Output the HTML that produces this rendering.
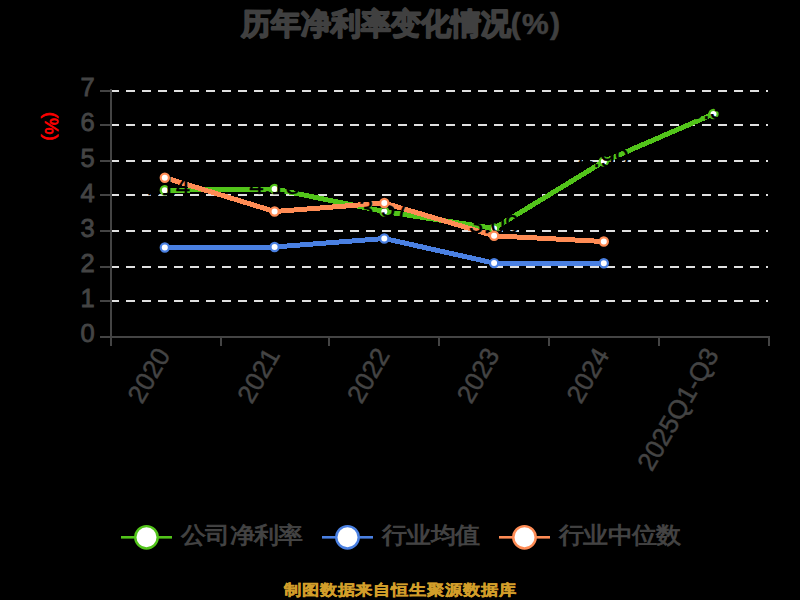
<!DOCTYPE html>
<html><head><meta charset="utf-8"><title>历年净利率变化情况</title>
<style>
html,body{margin:0;padding:0;background:#000;width:800px;height:600px;overflow:hidden}
svg{display:block}
text{font-family:"Liberation Sans",sans-serif}
.ax{font-size:26px;fill:#444444;stroke:#444444;stroke-width:0.9px}
.lbl{font-size:26px;fill:#000;stroke:#000;stroke-width:0.3px}
.unit{font-size:18.5px;fill:#ff0000;stroke:#ff0000;stroke-width:0.7px}
.leg{font-size:24.5px;letter-spacing:-0.65px;fill:#444444;stroke:#444444;stroke-width:0.9px}
.title{font-size:30px;font-weight:bold;fill:#404040;stroke:#404040;stroke-width:1.8px;stroke-linejoin:round}
.foot{font-size:17.7px;letter-spacing:-0.25px;font-weight:bold;fill:#d29e2a;stroke:#d29e2a;stroke-width:0.4px}
</style></head><body>
<svg width="800" height="600" viewBox="0 0 800 600">
<rect width="800" height="600" fill="#000"/>
<line x1="110" y1="91" x2="768" y2="91" stroke="#e0e0e0" stroke-width="2" stroke-dasharray="9 7"/>
<line x1="110" y1="125" x2="768" y2="125" stroke="#e0e0e0" stroke-width="2" stroke-dasharray="9 7"/>
<line x1="110" y1="161" x2="768" y2="161" stroke="#e0e0e0" stroke-width="2" stroke-dasharray="9 7"/>
<line x1="110" y1="195" x2="768" y2="195" stroke="#e0e0e0" stroke-width="2" stroke-dasharray="9 7"/>
<line x1="110" y1="231" x2="768" y2="231" stroke="#e0e0e0" stroke-width="2" stroke-dasharray="9 7"/>
<line x1="110" y1="267" x2="768" y2="267" stroke="#e0e0e0" stroke-width="2" stroke-dasharray="9 7"/>
<line x1="110" y1="301" x2="768" y2="301" stroke="#e0e0e0" stroke-width="2" stroke-dasharray="9 7"/>
<rect x="110" y="89" width="2" height="249" fill="#444444"/>
<rect x="110" y="336" width="660" height="2" fill="#444444"/>
<rect x="100" y="90" width="10" height="2" fill="#444444"/>
<rect x="100" y="124" width="10" height="2" fill="#444444"/>
<rect x="100" y="160" width="10" height="2" fill="#444444"/>
<rect x="100" y="194" width="10" height="2" fill="#444444"/>
<rect x="100" y="230" width="10" height="2" fill="#444444"/>
<rect x="100" y="266" width="10" height="2" fill="#444444"/>
<rect x="100" y="300" width="10" height="2" fill="#444444"/>
<rect x="100" y="336" width="10" height="2" fill="#444444"/>
<rect x="110" y="336" width="2" height="10" fill="#444444"/>
<rect x="220" y="336" width="2" height="10" fill="#444444"/>
<rect x="328" y="336" width="2" height="10" fill="#444444"/>
<rect x="438" y="336" width="2" height="10" fill="#444444"/>
<rect x="548" y="336" width="2" height="10" fill="#444444"/>
<rect x="658" y="336" width="2" height="10" fill="#444444"/>
<rect x="768" y="336" width="2" height="10" fill="#444444"/>
<text transform="translate(94.6,342.30) scale(0.96,1)" x="0" y="0" text-anchor="end" class="ax" style="font-size:26.6px">0</text>
<text transform="translate(94.6,307.16) scale(0.96,1)" x="0" y="0" text-anchor="end" class="ax" style="font-size:26.6px">1</text>
<text transform="translate(94.6,272.01) scale(0.96,1)" x="0" y="0" text-anchor="end" class="ax" style="font-size:26.6px">2</text>
<text transform="translate(94.6,236.87) scale(0.96,1)" x="0" y="0" text-anchor="end" class="ax" style="font-size:26.6px">3</text>
<text transform="translate(94.6,201.73) scale(0.96,1)" x="0" y="0" text-anchor="end" class="ax" style="font-size:26.6px">4</text>
<text transform="translate(94.6,166.59) scale(0.96,1)" x="0" y="0" text-anchor="end" class="ax" style="font-size:26.6px">5</text>
<text transform="translate(94.6,131.44) scale(0.96,1)" x="0" y="0" text-anchor="end" class="ax" style="font-size:26.6px">6</text>
<text transform="translate(94.6,96.30) scale(0.96,1)" x="0" y="0" text-anchor="end" class="ax" style="font-size:26.6px">7</text>
<text transform="translate(163.10,350.3) rotate(-60)" x="0" y="0" text-anchor="end" dominant-baseline="central" class="ax" style="stroke-width:0.5px">2020</text>
<text transform="translate(272.90,350.3) rotate(-60)" x="0" y="0" text-anchor="end" dominant-baseline="central" class="ax" style="stroke-width:0.5px">2021</text>
<text transform="translate(382.60,350.3) rotate(-60)" x="0" y="0" text-anchor="end" dominant-baseline="central" class="ax" style="stroke-width:0.5px">2022</text>
<text transform="translate(492.40,350.3) rotate(-60)" x="0" y="0" text-anchor="end" dominant-baseline="central" class="ax" style="stroke-width:0.5px">2023</text>
<text transform="translate(602.10,350.3) rotate(-60)" x="0" y="0" text-anchor="end" dominant-baseline="central" class="ax" style="stroke-width:0.5px">2024</text>
<text transform="translate(711.80,350.3) rotate(-60)" x="0" y="0" text-anchor="end" dominant-baseline="central" class="ax" style="stroke-width:0.5px">2025Q1-Q3</text>
<polyline points="164.80,190.30 274.60,189.00 384.30,211.50 494.10,228.40 603.80,161.50 713.50,114.00" fill="none" stroke="#52c41a" stroke-width="5" stroke-linejoin="round" stroke-linecap="butt" shape-rendering="crispEdges"/>
<polyline points="164.80,247.50 274.60,247.00 384.30,238.50 494.10,263.10 603.80,263.20" fill="none" stroke="#4a80e2" stroke-width="5" stroke-linejoin="round" stroke-linecap="butt" shape-rendering="crispEdges"/>
<polyline points="164.80,177.70 274.60,211.50 384.30,203.00 494.10,235.80 603.80,241.50" fill="none" stroke="#ff8c55" stroke-width="5" stroke-linejoin="round" stroke-linecap="butt" shape-rendering="crispEdges"/>
<circle cx="164.80" cy="190.30" r="4.1" fill="#fff" stroke="#52c41a" stroke-width="2.2"/><circle cx="274.60" cy="189.00" r="4.1" fill="#fff" stroke="#52c41a" stroke-width="2.2"/><circle cx="384.30" cy="211.50" r="4.1" fill="#fff" stroke="#52c41a" stroke-width="2.2"/><circle cx="494.10" cy="228.40" r="4.1" fill="#fff" stroke="#52c41a" stroke-width="2.2"/><circle cx="603.80" cy="161.50" r="4.1" fill="#fff" stroke="#52c41a" stroke-width="2.2"/><circle cx="713.50" cy="114.00" r="4.1" fill="#fff" stroke="#52c41a" stroke-width="2.2"/>
<text x="164.80" y="195.30" text-anchor="middle" class="lbl">4.14</text><text x="274.60" y="194.00" text-anchor="middle" class="lbl">4.18</text><text x="384.30" y="216.50" text-anchor="middle" class="lbl">3.57</text><text x="494.10" y="233.40" text-anchor="middle" class="lbl">3.09</text><text x="603.80" y="166.50" text-anchor="middle" class="lbl">4.99</text><text x="713.50" y="119.00" text-anchor="middle" class="lbl">6.35</text>
<circle cx="164.80" cy="247.50" r="4.1" fill="#fff" stroke="#4a80e2" stroke-width="2.2"/><circle cx="274.60" cy="247.00" r="4.1" fill="#fff" stroke="#4a80e2" stroke-width="2.2"/><circle cx="384.30" cy="238.50" r="4.1" fill="#fff" stroke="#4a80e2" stroke-width="2.2"/><circle cx="494.10" cy="263.10" r="4.1" fill="#fff" stroke="#4a80e2" stroke-width="2.2"/><circle cx="603.80" cy="263.20" r="4.1" fill="#fff" stroke="#4a80e2" stroke-width="2.2"/>
<circle cx="164.80" cy="177.70" r="4.1" fill="#fff" stroke="#ff8c55" stroke-width="2.2"/><circle cx="274.60" cy="211.50" r="4.1" fill="#fff" stroke="#ff8c55" stroke-width="2.2"/><circle cx="384.30" cy="203.00" r="4.1" fill="#fff" stroke="#ff8c55" stroke-width="2.2"/><circle cx="494.10" cy="235.80" r="4.1" fill="#fff" stroke="#ff8c55" stroke-width="2.2"/><circle cx="603.80" cy="241.50" r="4.1" fill="#fff" stroke="#ff8c55" stroke-width="2.2"/>
<text transform="translate(51.3,126.3) rotate(90)" text-anchor="middle" dominant-baseline="central" class="unit">(%)</text>
<rect x="121" y="536" width="51" height="2.6" fill="#52c41a"/><circle cx="146.5" cy="537.3" r="11.2" fill="#fff" stroke="#52c41a" stroke-width="2.4"/><text transform="translate(181,543.4) scale(1,0.92)" x="0" y="0" class="leg">公司净利率</text>
<rect x="322" y="536" width="51" height="2.6" fill="#4a80e2"/><circle cx="347.5" cy="537.3" r="11.2" fill="#fff" stroke="#4a80e2" stroke-width="2.4"/><text transform="translate(382,543.4) scale(1,0.92)" x="0" y="0" class="leg">行业均值</text>
<rect x="499" y="536" width="51" height="2.6" fill="#ff8c55"/><circle cx="524.5" cy="537.3" r="11.2" fill="#fff" stroke="#ff8c55" stroke-width="2.4"/><text transform="translate(559,543.4) scale(1,0.92)" x="0" y="0" class="leg">行业中位数</text>
<text x="401" y="34" text-anchor="middle" class="title">历年净利率变化情况<tspan style="stroke-width:0.6px;letter-spacing:1.2px">(%)</tspan></text>
<text transform="translate(400.2,594.8) scale(1,0.87)" x="0" y="0" text-anchor="middle" class="foot">制图数据来自恒生聚源数据库</text>
</svg>
</body></html>
